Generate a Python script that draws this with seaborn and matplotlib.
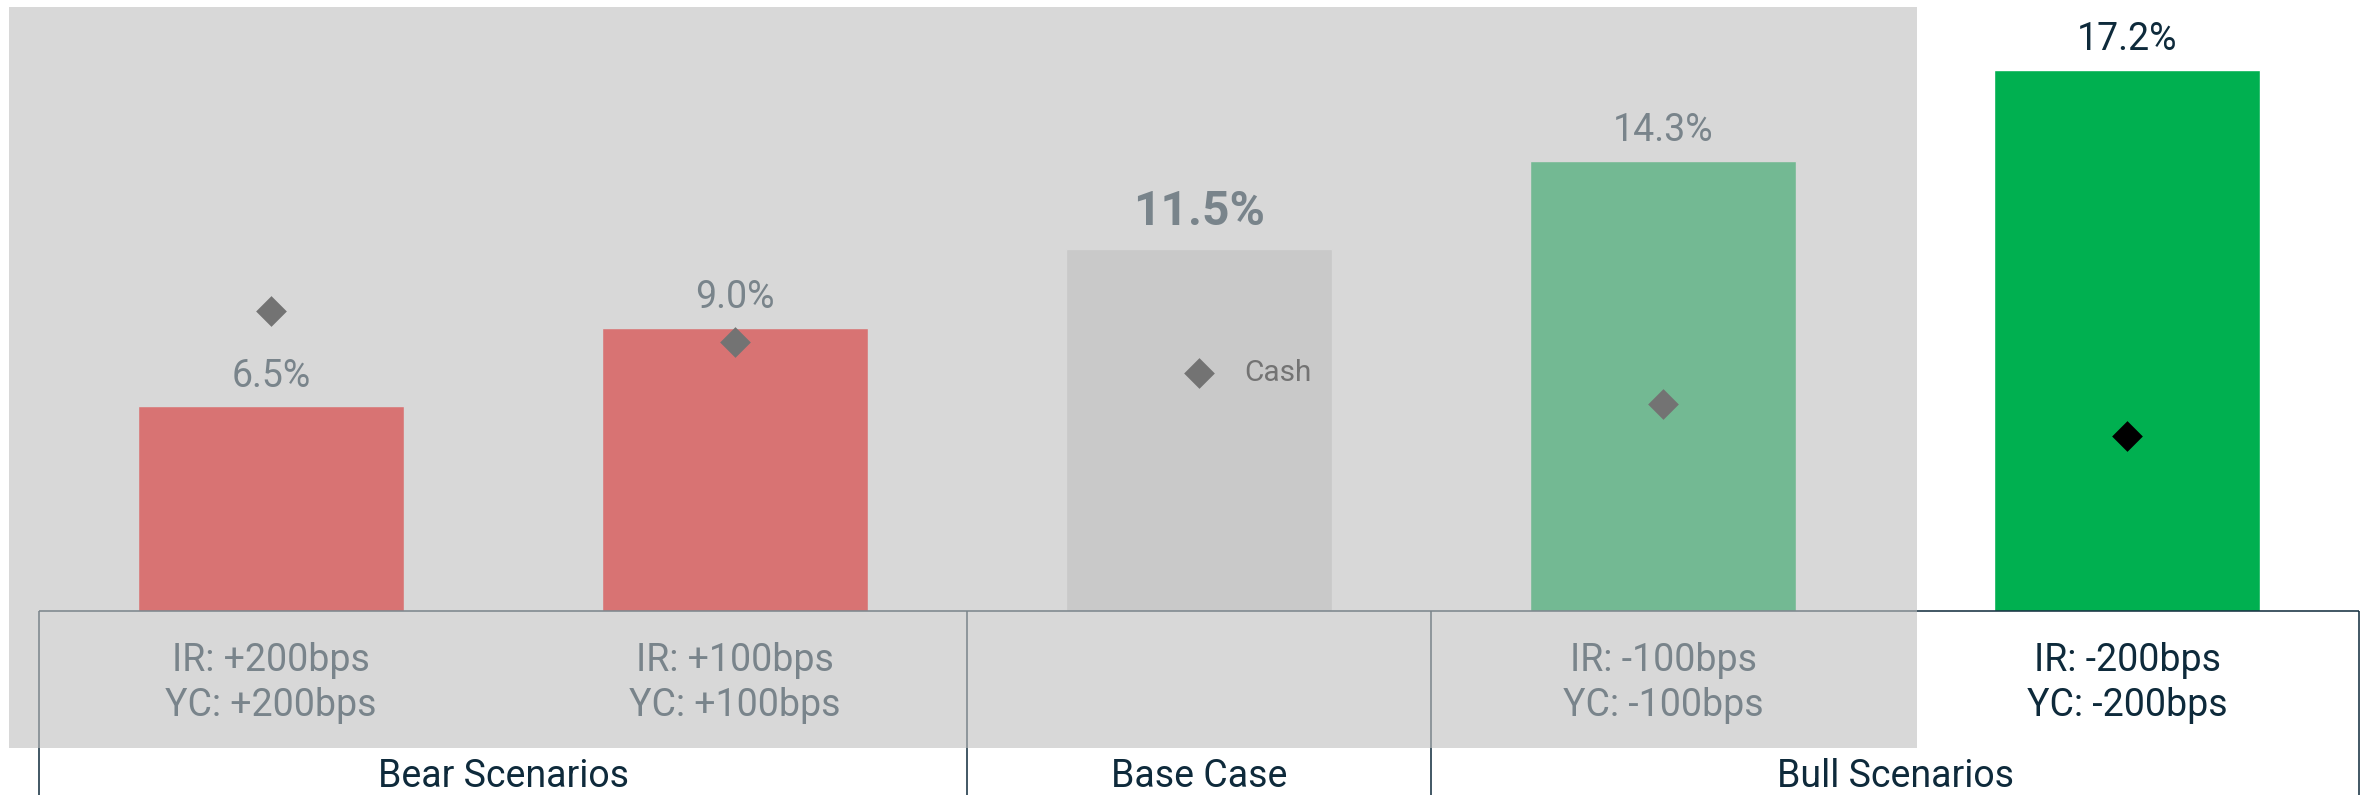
import numpy as np
import pandas as pd
import matplotlib
matplotlib.use("Agg")
import matplotlib.pyplot as plt
import seaborn as sns
from matplotlib.patches import Rectangle

# ---------------- data ----------------
scenario_keys = ["bear_200", "bear_100", "base", "bull_100", "bull_200"]
ir_labels = ["IR: +200bps", "IR: +100bps", "", "IR: -100bps", "IR: -200bps"]
yc_labels = ["YC: +200bps", "YC: +100bps", "", "YC: -100bps", "YC: -200bps"]
expected_return = [6.5, 9.0, 11.5, 14.3, 17.2]
value_labels = ["6.5%", "9.0%", "11.5%", "14.3%", "17.2%"]
cash_return = [9.55, 8.56, 7.58, 6.57, 5.56]
cash_label = "Cash"
group_names = ["Bear Scenarios", "Base Case", "Bull Scenarios"]
group_first = [0, 2, 3]
group_last = [1, 2, 4]
bar_colors = ["#FF0000", "#FF0000", "#D9D9D9", "#00B050", "#00B050"]

# ---------------- style ----------------
sns.set_style("white")
plt.rcParams["font.family"] = ["Roboto", "DejaVu Sans"]
DARK = "#0E2A3B"

W, H = 2371, 795
fig = plt.figure(figsize=((W + 0.2) / 100, (H + 0.2) / 100), dpi=100)
fig.patch.set_facecolor("white")
ax = fig.add_axes([0, 0, 1, 1])

df = pd.DataFrame({
    "key": scenario_keys,
    "pos": np.arange(len(scenario_keys)),
    "ret": expected_return,
    "cash": cash_return,
})

sns.barplot(data=df, x="pos", y="ret", hue="key", palette=bar_colors,
            width=0.573, saturation=1, legend=False, dodge=False,
            errorbar=None, ax=ax, zorder=2)

sns.scatterplot(data=df, x="pos", y="cash", marker="D", s=245,
                color="black", linewidth=0, legend=False, ax=ax, zorder=4)

# value labels
for i, (v, lab) in enumerate(zip(expected_return, value_labels)):
    bold = scenario_keys[i] == "base"
    ax.annotate(lab, (i, v), xytext=(0, 17.8 if bold else 14.4),
                textcoords="offset points", ha="center", va="baseline",
                fontsize=34.5 if bold else 27,
                fontweight="bold" if bold else "normal", color=DARK, zorder=5)

# cash label next to base-case diamond
base_i = scenario_keys.index("base")
ax.annotate(cash_label, (base_i, cash_return[base_i]), xytext=(32.2, -5.8),
            textcoords="offset points", ha="left", va="baseline",
            fontsize=21.5, color="black", zorder=5)

# limits: map pixels to data
ylo, yhi = -5.851, 19.428
ax.set_xlim(-0.5841, 4.5259)
ax.set_ylim(ylo, yhi)
ax.axis("off")

# table lines
lw = 1.1
xl, xr = group_first[0] - 0.5, group_last[-1] + 0.5
ax.plot([xl, xr], [0, 0], color=DARK, lw=lw, solid_capstyle="butt",
        zorder=5, clip_on=False)
bounds = [g - 0.5 for g in group_first] + [group_last[-1] + 0.5]
for xb in bounds:
    ax.plot([xb, xb], [0, ylo - 1], color=DARK, lw=lw,
            solid_capstyle="butt", zorder=5, clip_on=False)

# scenario labels
for i, (ir, yc) in enumerate(zip(ir_labels, yc_labels)):
    ax.text(i, -1.898, ir, ha="center", va="baseline", fontsize=27,
            color=DARK, zorder=5)
    ax.text(i, -3.339, yc, ha="center", va="baseline", fontsize=27,
            color=DARK, zorder=5)

# group labels
for name, a, b in zip(group_names, group_first, group_last):
    ax.text((a + b) / 2, -5.58, name, ha="center", va="baseline",
            fontsize=27, color=DARK, zorder=5)

# translucent grey overlay covering all but the strongest bull scenario
x0, x1 = 8.5, 1917.0
y_top, y_bot = 7.0, 747.7
ax.add_patch(Rectangle((x0 / W, (H - y_bot) / H), (x1 - x0) / W,
                       (y_bot - y_top) / H, transform=fig.transFigure,
                       facecolor="#BFBFBF", alpha=0.608, edgecolor="none",
                       zorder=10, clip_on=False))

fig.savefig("out.png", dpi=100, facecolor="white")
